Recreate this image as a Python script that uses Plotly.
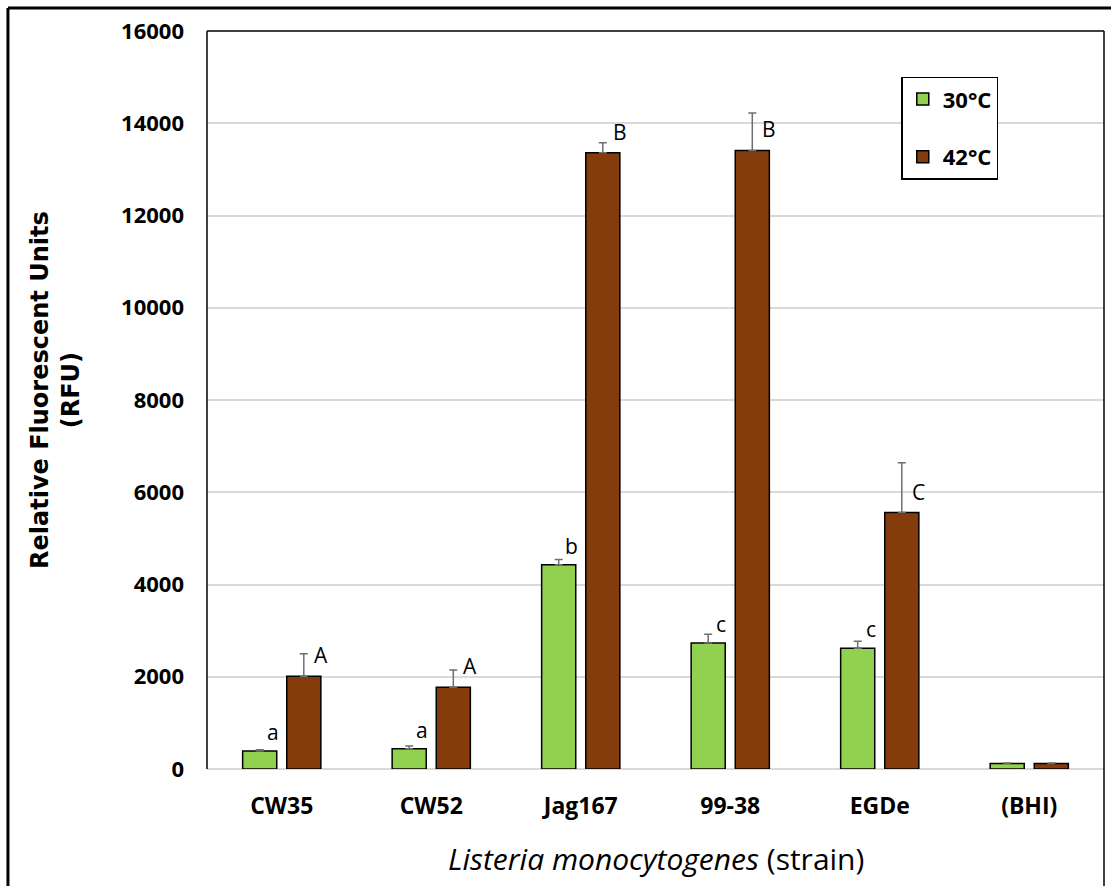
import plotly.graph_objects as go

strains = ["CW35", "CW52", "Jag167", "99-38", "EGDe", "(BHI)"]
rfu_30 = [390, 440, 4430, 2730, 2620, 120]
err_30 = [30, 60, 110, 190, 150, 10]
rfu_42 = [2010, 1770, 13360, 13410, 5560, 120]
err_42 = [490, 375, 215, 810, 1080, 10]
letters_30 = ["a", "a", "b", "c", "c", ""]
letters_42 = ["A", "A", "B", "B", "C", ""]

GREEN = "#92d050"
BROWN = "#843c0c"
ERR = "#6f6f6f"

fig = go.Figure()
fig.add_trace(go.Bar(
    x=strains, y=rfu_30, name="30°C", legendgroup="g30",
    marker=dict(color=GREEN, line=dict(color="black", width=1.5)),
    error_y=dict(type="data", array=err_30, arrayminus=[0] * len(err_30),
                 symmetric=False, color=ERR, thickness=1.5, width=4),
))
fig.add_trace(go.Bar(
    x=strains, y=rfu_42, name="42°C", legendgroup="g42",
    marker=dict(color=BROWN, line=dict(color="black", width=1.5)),
    error_y=dict(type="data", array=err_42, arrayminus=[0] * len(err_42),
                 symmetric=False, color=ERR, thickness=1.5, width=4),
))

letter_font = dict(family="Open Sans", size=21, color="black")
for s, v, t in zip(strains, rfu_30, letters_30):
    if t:
        fig.add_annotation(x=s, y=v, text=t, showarrow=False, xref="x", yref="y",
                           xanchor="center", yanchor="middle", xshift=-9, yshift=19,
                           font=letter_font)
for s, v, t in zip(strains, rfu_42, letters_42):
    if t:
        fig.add_annotation(x=s, y=v, text=t, showarrow=False, xref="x", yref="y",
                           xanchor="center", yanchor="middle", xshift=39, yshift=21,
                           font=letter_font)

# axis titles
fig.add_annotation(x=-0.1695, y=0.5135, xref="paper", yref="paper",
                   text="<b>Relative Fluorescent Units<br>(RFU)</b>", textangle=-90,
                   showarrow=False, xanchor="center", yanchor="middle",
                   font=dict(family="DejaVu Sans", size=24, color="black"))
fig.add_annotation(x=0.5, y=-0.1206, xref="paper", yref="paper",
                   text="<i>Listeria monocytogenes</i> (strain)",
                   showarrow=False, xanchor="center", yanchor="middle",
                   font=dict(family="Open Sans", size=30, color="black"))

# frame lines
line_black = dict(color="black", width=1.5)
fig.add_shape(type="line", xref="paper", yref="paper", x0=0, x1=0, y0=0, y1=1, line=line_black)
fig.add_shape(type="line", xref="paper", yref="paper", x0=0, x1=1, y0=1, y1=1, line=line_black)
fig.add_shape(type="line", xref="paper", yref="paper", x0=1, x1=1, y0=1, y1=-0.2, line=line_black)
outer = dict(color="black", width=3)
fig.add_shape(type="line", xref="paper", yref="paper", x0=-0.2219, x1=-0.2219, y0=-0.2, y1=1.0312, line=outer)
fig.add_shape(type="line", xref="paper", yref="paper", x0=-0.2219, x1=1.02, y0=1.0312, y1=1.0312, line=outer)

fig.update_layout(
    width=1111, height=886,
    margin=dict(l=207, r=7, t=31, b=117),
    paper_bgcolor="white", plot_bgcolor="white",
    barmode="group", bargap=0.41, bargroupgap=0.227,
    showlegend=True,
    legend=dict(x=0.774, y=0.938, xanchor="left", yanchor="top",
                bordercolor="black", borderwidth=1.5, bgcolor="white",
                font=dict(family="Open Sans", size=22, color="black", weight="bold"),
                tracegroupgap=26, traceorder="grouped", itemwidth=30),
    xaxis=dict(showline=False, showgrid=False, ticks="", ticklabelstandoff=21,
               tickfont=dict(family="Open Sans", size=23, color="black", weight="bold")),
    yaxis=dict(range=[0, 16000], dtick=2000, tickformat="d",
               showgrid=True, gridcolor="#d9d9d9", gridwidth=1.5,
               zeroline=True, zerolinecolor="#d9d9d9", zerolinewidth=1.5,
               showline=False, ticks="", ticklabelstandoff=22,
               tickfont=dict(family="Open Sans", size=22, color="black", weight="bold")),
)

fig.write_html("out.html")
